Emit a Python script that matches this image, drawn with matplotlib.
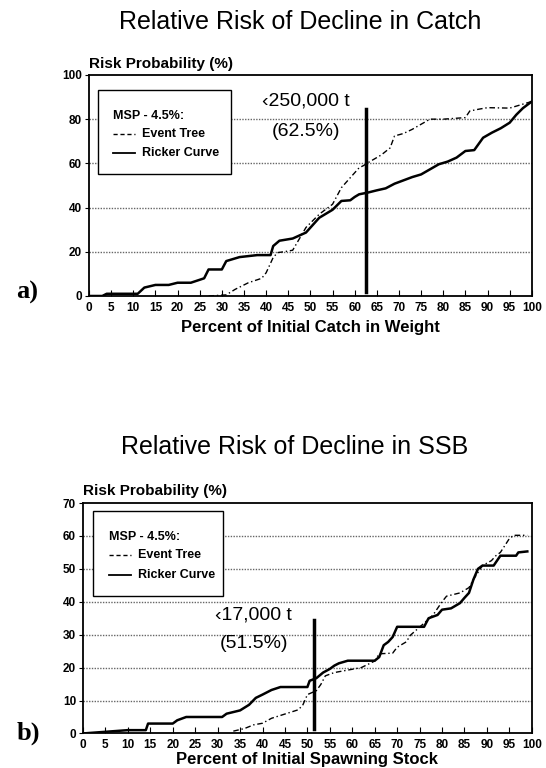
import numpy as np
import matplotlib.pyplot as plt

# ---- panel a: catch ----
catch_ricker_x = [0, 3, 4, 11, 12.5, 15, 18, 20, 23, 26, 27, 30, 31, 34, 38, 41, 41.6, 43, 46, 49,
                  52, 55, 57, 59, 60, 61, 63, 65, 67, 69, 71, 73, 75, 77, 79, 81, 83, 85, 87, 89,
                  91, 93, 95, 96.5, 98, 100]
catch_ricker_y = [0, 0, 1, 1, 3.8, 5, 5, 6, 6, 8, 12, 12, 15.8, 17.6, 18.5, 18.5, 22.6, 25, 26, 28.7,
                  35.4, 39, 43, 43.3, 44.8, 46, 46.8, 47.8, 48.7, 50.8, 52.3, 53.8, 55, 57.3, 59.6,
                  60.8, 62.6, 65.6, 66, 71.6, 73.9, 75.9, 78.4, 82, 85, 88]
catch_event_x = [27, 31, 33, 36, 39, 40, 41.5, 42.5, 44, 46, 49, 52, 55, 57, 59, 61, 62, 63, 66, 68,
                 69, 71, 73, 75, 77, 80, 85, 86, 88, 90, 95, 100]
catch_event_y = [0, 0.5, 3, 6, 8, 10.5, 17, 19.6, 20, 20.7, 31, 37, 41.5, 49, 53.5, 58, 59, 60.3,
                 63.8, 67, 72.4, 73.5, 75.4, 77.7, 80, 80, 80.7, 83.7, 84.5, 85.2, 85, 88]

# ---- panel b: SSB ----
ssb_ricker_x = [0, 10, 14, 14.5, 20, 21, 23, 31, 32, 35, 37, 38.5, 40, 42, 44, 50, 50.5, 52, 53.5,
                55, 56, 57, 59, 65, 66, 67, 68, 69, 70, 76, 77, 79, 80, 82, 84, 85, 86, 87, 88,
                89, 91.5, 93, 96.5, 97, 99]
ssb_ricker_y = [0, 1, 1, 3, 3, 4, 5, 5, 6, 7, 8.7, 10.8, 11.8, 13.2, 14.1, 14.1, 16, 16.8, 18.5,
                19.6, 20.6, 21.3, 22.1, 22.1, 23.2, 26.8, 27.8, 29.3, 32.4, 32.4, 35, 36, 37.6, 38,
                39.6, 41.2, 42.7, 46.8, 50, 51, 51, 54, 54, 55, 55.3]
ssb_event_x = [33.5, 36, 38, 40, 42, 45, 48, 49, 50, 52, 53, 54, 56, 58, 62, 65, 66, 69, 70, 72, 73,
               76, 78, 79, 80, 81, 84, 86, 87, 88, 89, 91, 92, 93, 95, 96, 99]
ssb_event_y = [0.7, 1.5, 2.6, 3.1, 4.6, 5.9, 7.2, 8.7, 11.8, 13, 14.9, 17.5, 18.5, 19, 20, 22, 24.2,
               24.4, 26.2, 27.8, 29.9, 33.5, 36, 38, 40, 41.7, 42.7, 44.3, 46.8, 48.9, 51, 52.5,
               54, 55, 59.2, 60.2, 60.2]

xticks = list(range(0, 101, 5))

plt.rcParams['font.family'] = ['Liberation Sans', 'DejaVu Sans']

fig = plt.figure(figsize=(5.46, 7.68), dpi=100)


def draw_panel(ax, rx, ry, ex, ey, ymax, ystep, vline_x, vline_y, label1, label2, txt_xy, box):
    ax.set_xlim(0, 100)
    ax.set_ylim(0, ymax)
    for g in range(ystep, ymax, ystep):
        ax.axhline(g, color='#666666', lw=1.0, ls=(0, (1, 1)), zorder=0)
    ax.plot(ex, ey, color='black', lw=1.0, ls=(0, (4, 2, 1, 2)))
    ax.plot(rx, ry, color='black', lw=1.8)
    ax.plot([vline_x, vline_x], vline_y, color='black', lw=2.5)
    ax.text(txt_xy[0], txt_xy[1], label1, ha='center', va='center', fontsize=14)
    ax.text(txt_xy[0], txt_xy[2], label2, ha='center', va='center', fontsize=14)
    ax.set_xticks(xticks)
    ax.set_xticklabels([str(t) for t in xticks], fontsize=8.5, fontweight='bold')
    ax.set_yticks(range(0, ymax + 1, ystep))
    ax.set_yticklabels([str(t) for t in range(0, ymax + 1, ystep)], fontsize=8.5, fontweight='bold')
    ax.tick_params(axis='x', direction='in', length=4, pad=4)
    ax.tick_params(axis='y', direction='out', length=3, pad=2)
    for s in ax.spines.values():
        s.set_linewidth(1.3)
    # legend box
    x0, y0, x1, y1 = box
    ax.add_patch(plt.Rectangle((x0, y0), x1 - x0, y1 - y0, fill=True, facecolor='white',
                               edgecolor='black', lw=1.0, zorder=3))
    h = y1 - y0
    ax.text(x0 + 3.5, y1 - 0.3 * h, 'MSP - 4.5%:', fontsize=9, fontweight='bold',
            va='center', zorder=4)
    ax.plot([x0 + 3.5, x0 + 8.5], [y1 - 0.52 * h] * 2, color='black', lw=1.0, ls=(0, (3, 2)), zorder=4)
    ax.text(x0 + 10, y1 - 0.52 * h, 'Event Tree', fontsize=9, fontweight='bold',
            va='center', zorder=4)
    ax.plot([x0 + 3.5, x0 + 8.5], [y1 - 0.75 * h] * 2, color='black', lw=1.3, zorder=4)
    ax.text(x0 + 10, y1 - 0.75 * h, 'Ricker Curve', fontsize=9, fontweight='bold',
            va='center', zorder=4)
    ax.text(0, 1.02, 'Risk Probability (%)', transform=ax.transAxes, fontsize=11,
            fontweight='bold', va='bottom', ha='left')


ax1 = fig.add_axes([0.163, 0.6146, 0.811, 0.2878])
draw_panel(ax1, catch_ricker_x, catch_ricker_y, catch_event_x, catch_event_y, 100, 20,
           62.5, [2, 84.5], '\u2039250,000 t', '(62.5%)', (49, 88, 74.6), (2, 55, 32, 93))
ax1.set_xlabel('Percent of Initial Catch in Weight', fontsize=12, fontweight='bold', labelpad=5)

ax2 = fig.add_axes([0.152, 0.045, 0.822, 0.300])
draw_panel(ax2, ssb_ricker_x, ssb_ricker_y, ssb_event_x, ssb_event_y, 70, 10,
           51.5, [1.5, 34.5], '\u203917,000 t', '(51.5%)',
           (38, 36, 27.3), (2.2, 41.7, 31.3, 67.6))
ax2.set_xlabel('Percent of Initial Spawning Stock', fontsize=12, fontweight='bold', labelpad=1)

fig.text(0.55, 1 - 22 / 768, 'Relative Risk of Decline in Catch', ha='center', va='center',
         fontsize=18)
fig.text(0.54, 1 - 447 / 768, 'Relative Risk of Decline in SSB', ha='center', va='center',
         fontsize=18)
fig.text(0.03, 1 - 292 / 768, 'a)', fontsize=19, fontweight='bold', family='Liberation Serif',
         va='center')
fig.text(0.03, 1 - 733 / 768, 'b)', fontsize=19, fontweight='bold', family='Liberation Serif',
         va='center')

fig.savefig('out.png', dpi=100)
